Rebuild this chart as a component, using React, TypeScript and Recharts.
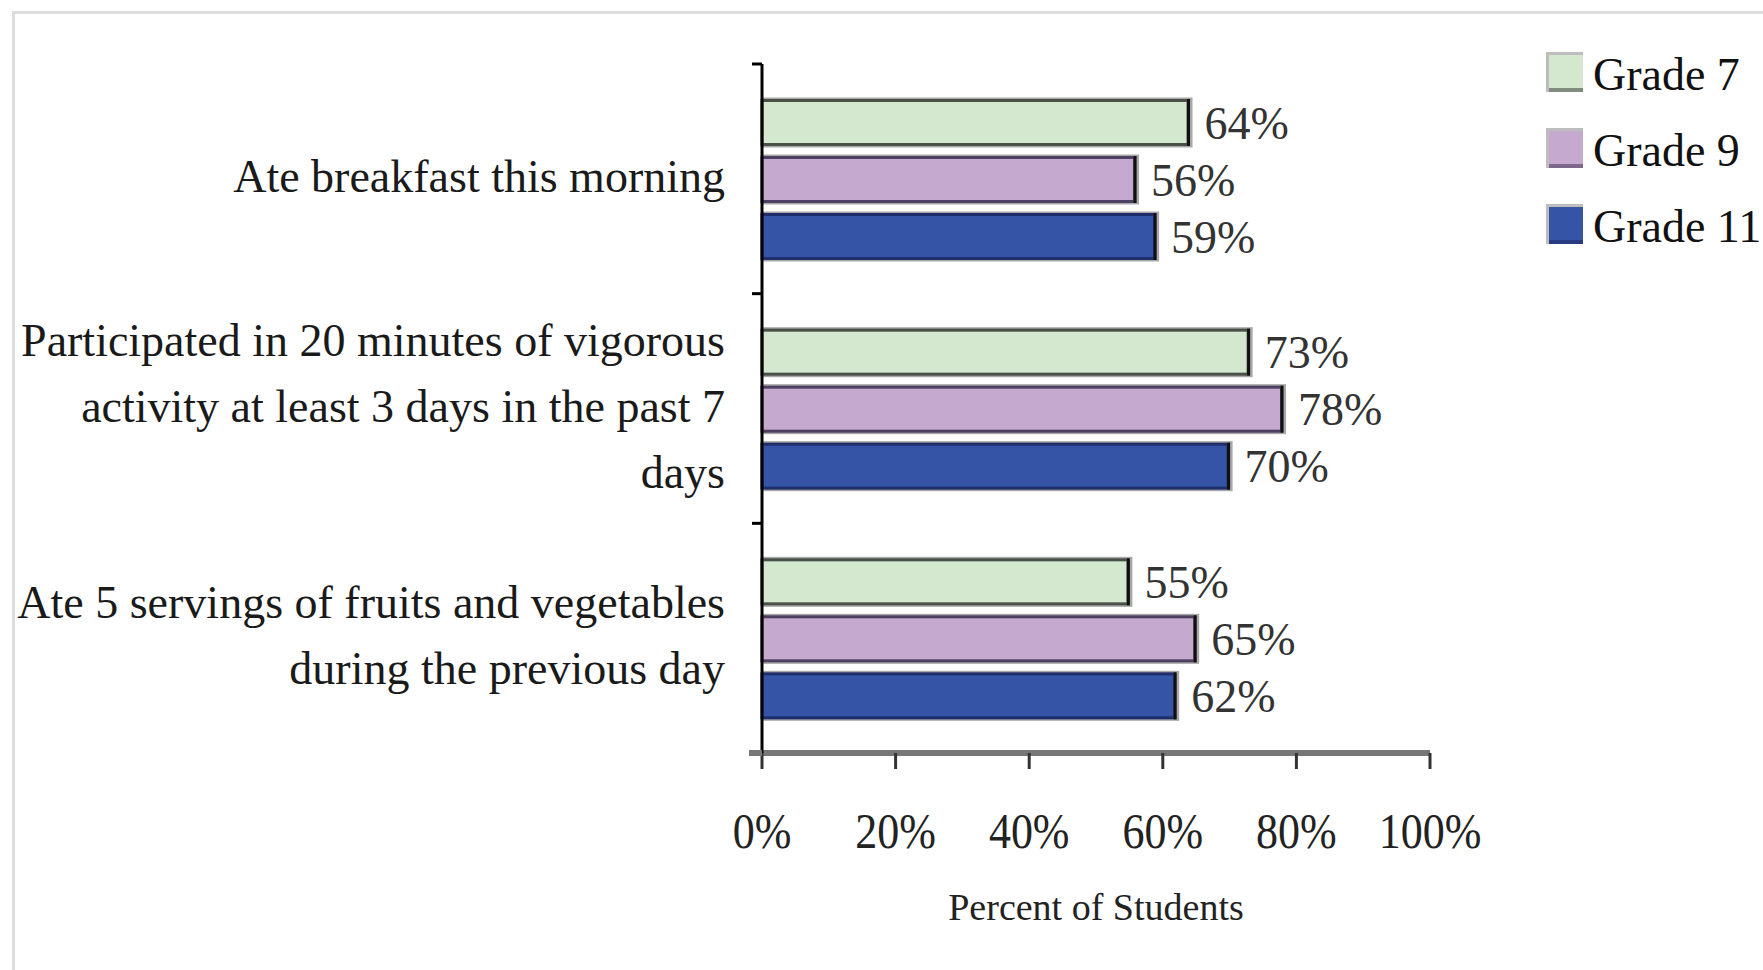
import { BarChart, Bar, XAxis, YAxis, Legend, LabelList } from "recharts";

const categories = [
  "Ate breakfast this morning",
  "Participated in 20 minutes of vigorous activity at least 3 days in the past 7 days",
  "Ate 5 servings of fruits and vegetables during the previous day",
];
const categoryLines = [
  ["Ate breakfast this morning"],
  ["Participated in 20 minutes of vigorous", "activity at least 3 days in the past 7", "days"],
  ["Ate 5 servings of fruits and vegetables", "during the previous day"],
];
const grade7 = [64, 73, 55];
const grade9 = [56, 78, 65];
const grade11 = [59, 70, 62];
const xTicks = [0, 20, 40, 60, 80, 100];

const FONT = "'Liberation Serif', 'Times New Roman', serif";

const series = [
  { key: "g7", name: "Grade 7", fill: "#d3e8cf", edge: "#4a5048" },
  { key: "g9", name: "Grade 9", fill: "#c6a9cf", edge: "#4e4060" },
  { key: "g11", name: "Grade 11", fill: "#3554a5", edge: "#1f2d6a" },
];

const data = categories.map((name, i) => ({
  name,
  g7: grade7[i],
  g9: grade9[i],
  g11: grade11[i],
}));

function BarShape(props: any) {
  const { x, y, width, height, fill, edge } = props;
  if (!width || width <= 0) return null;
  return (
    <g>
      <rect x={x} y={y - 1.5} width={width + 3} height={height + 3} fill="#a8a8a8" />
      <rect x={x} y={y + 1.5} width={width - 1.5} height={height - 3} fill={fill} stroke={edge} strokeWidth={3} />
      <line x1={x + width - 1} x2={x + width - 1} y1={y} y2={y + height} stroke="#111" strokeWidth={3} />
    </g>
  );
}

function CategoryTick(props: any) {
  const { x, y, payload, index } = props;
  const lines: string[] = categoryLines[index] || [String(payload.value)];
  const lh = 66;
  const start = y - ((lines.length - 1) * lh) / 2 + 13;
  const half = payload.offset || 0;
  const ax = x + 37;
  return (
    <g>
      <line x1={ax - 10} x2={ax} y1={y - half} y2={y - half} stroke="#000" strokeWidth={3} />
      {index === categories.length - 1 && (
        <line x1={ax - 13} x2={ax} y1={y + half} y2={y + half} stroke="#777" strokeWidth={6} />
      )}
      <text x={x} y={start} textAnchor="end" fontFamily={FONT} fontSize={46} fill="#1a1a1a">
        {lines.map((l, i) => (
          <tspan key={i} x={x} dy={i === 0 ? 0 : lh}>
            {l}
          </tspan>
        ))}
      </text>
    </g>
  );
}

function PercentTick(props: any) {
  const { x, y, payload } = props;
  return (
    <text
      x={x}
      y={y}
      dy="0.71em"
      textAnchor="middle"
      fontFamily={FONT}
      fontSize={50}
      fill="#222"
      transform={`translate(${x},0) scale(0.88,1) translate(${-x},0)`}
    >
      {`${payload.value}%`}
    </text>
  );
}

// legend drawn in series order (payload comes back sorted by name)
function LegendBox() {
  return (
    <svg width={220} height={240} style={{ display: "block" }}>
      {series.map((s, i) => {
        const top = 2 + i * 76;
        return (
          <g key={s.key}>
            <rect x={0} y={top} width={37} height={40} fill="#bdbdbd" />
            <rect x={3} y={top + 3} width={34} height={37} fill={s.fill} />
            <rect x={3} y={top + 36} width={34} height={4} fill={s.edge} opacity={0.6} />
            <text x={47} y={top + 38} fontFamily={FONT} fontSize={46} fill="#111">
              {s.name}
            </text>
          </g>
        );
      })}
    </svg>
  );
}

export default function App() {
  return (
    <div
      style={{
        position: "absolute",
        left: 0,
        top: 0,
        width: 1763,
        height: 970,
        overflow: "hidden",
        background: "#fff",
      }}
    >
      <div
        style={{
          position: "absolute",
          left: 12,
          top: 11,
          width: 1800,
          height: 1000,
          borderTop: "3px solid #dddddd",
          borderLeft: "3px solid #dddddd",
        }}
      />
      <div style={{ position: "absolute", left: 0, top: 0 }}>
        <BarChart
          width={1763}
          height={970}
          data={data}
          layout="vertical"
          margin={{ top: 64, right: 333, bottom: 50, left: 0 }}
          barCategoryGap={35}
          barGap={10}
        >
          <XAxis
            type="number"
            domain={[0, 100]}
            ticks={xTicks}
            interval={0}
            axisLine={{ stroke: "#777", strokeWidth: 6 }}
            tickLine={{ stroke: "#333", strokeWidth: 3 }}
            tickSize={16}
            tickMargin={44}
            height={167}
            tick={<PercentTick />}
            label={{
              value: "Percent of Students",
              position: "insideBottom",
              offset: 0,
              fontFamily: FONT,
              fontSize: 38,
              fill: "#222",
            }}
          />
          <YAxis
            type="category"
            dataKey="name"
            width={762}
            interval={0}
            axisLine={{ stroke: "#000", strokeWidth: 3 }}
            tickLine={false}
            tickSize={10}
            tickMargin={27}
            tick={<CategoryTick />}
          />
          <Legend
            layout="vertical"
            align="center"
            verticalAlign="middle"
            content={<LegendBox />}
            wrapperStyle={{ left: 1546, top: 50, width: 220, height: 240 }}
          />
          {series.map((s) => (
            <Bar
              key={s.key}
              dataKey={s.key}
              name={s.name}
              fill={s.fill}
              isAnimationActive={false}
              shape={<BarShape edge={s.edge} />}
            >
              <LabelList
                dataKey={s.key}
                position="right"
                offset={15}
                formatter={(v: any) => `${v}%`}
                style={{ fontFamily: FONT, fontSize: 46, fill: "#333" }}
              />
            </Bar>
          ))}
        </BarChart>
      </div>
    </div>
  );
}
